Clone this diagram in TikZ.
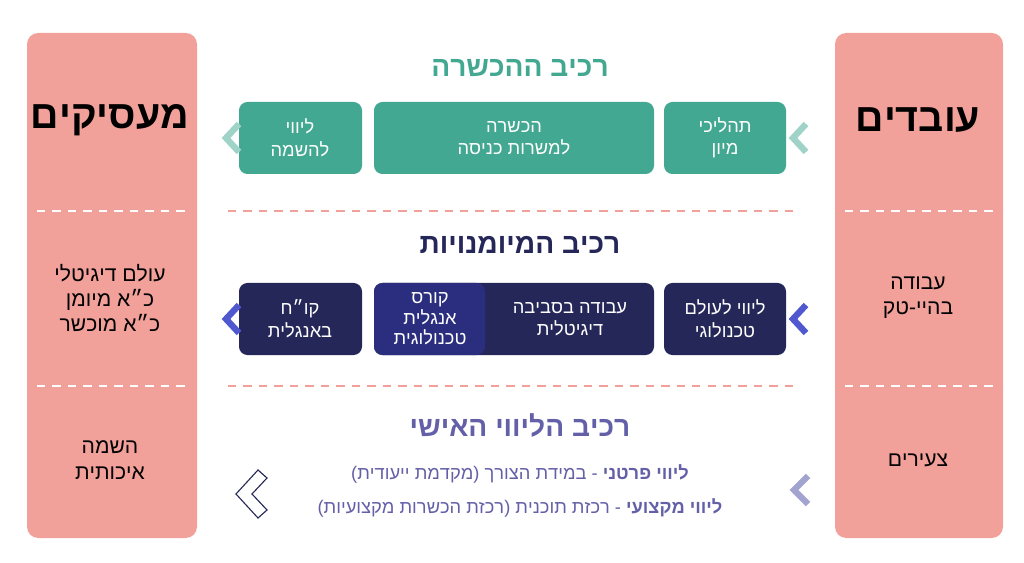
\documentclass[tikz,border=0pt]{standalone}
\usepackage{fontspec}
\setmainfont{Liberation Sans}
\TeXXeTstate=1
\newcommand\he[1]{\beginR#1\endR}
\definecolor{panelred}{HTML}{F2A19A}
\definecolor{teal}{HTML}{43A891}
\definecolor{lteal}{HTML}{9FD3C7}
\definecolor{navy}{HTML}{252759}
\definecolor{inner}{HTML}{2B2E7E}
\definecolor{chevblue}{HTML}{5058D0}
\definecolor{lilac}{HTML}{6360A8}
\definecolor{llilac}{HTML}{A3A3CF}
\tikzset{
  panel/.style={fill=panelred, rounded corners=8pt},
  stepbox/.style={rounded corners=6pt, text=white, align=center, font=\fontsize{13}{16}\selectfont},
  title/.style={font=\fontsize{20}{24}\selectfont\bfseries},
  side/.style={align=center, font=\fontsize{15}{18}\selectfont},
  chev/.style={line width=4.5pt},
}
\begin{document}
\begin{tikzpicture}[x=0.025cm,y=-0.025cm]
  \useasboundingbox[fill=white] (0,0) rectangle (1024,563);

  % side panels
  \fill[panel] (27,33) rectangle (197,538);
  \fill[panel] (835,33) rectangle (1003,538);
  \foreach \y in {211,386} {
    \draw[white, dashed, line width=1pt, dash pattern=on 6pt off 5pt] (37,\y) -- (187,\y);
    \draw[white, dashed, line width=1pt, dash pattern=on 6pt off 5pt] (845,\y) -- (993,\y);
    \draw[panelred, line width=1pt, dash pattern=on 6pt off 5pt] (228,\y) -- (795,\y);
  }
  \node[font=\fontsize{28}{32}\selectfont\bfseries] (employers) at (110,120) {\he{מעסיקים}};
  \node[side] (digital) at (110,298) {\he{עולם דיגיטלי}\\\he{כ״א מיומן}\\\he{כ״א מוכשר}};
  \node[side] (placement) at (110,460) {\he{השמה}\\\he{איכותית}};
  \node[font=\fontsize{28}{32}\selectfont\bfseries] (workers) at (918,120) {\he{עובדים}};
  \node[side] (hitech) at (918,298) {\he{עבודה}\\\he{בהיי-טק}};
  \node[side] (youth) at (918,460) {\he{צעירים}};

  % training
  \node[title, text=teal] (ttrain) at (520,68) {\he{רכיב ההכשרה}};
  \fill[stepbox, fill=teal] (664,102) rectangle (786,174);
  \node[stepbox] (sort) at (725,138) {\he{תהליכי}\\\he{מיון}};
  \fill[stepbox, fill=teal] (374,102) rectangle (654,174);
  \node[stepbox] (train) at (514,138) {\he{הכשרה}\\\he{למשרות כניסה}};
  \fill[stepbox, fill=teal] (239,102) rectangle (362,174);
  \node[stepbox] (escort) at (300,138) {\he{ליווי}\\\he{להשמה}};
  \draw[chev, lteal] (806,124) -- (793,138) -- (806,152);
  \draw[chev, lteal] (239,124) -- (226,138) -- (239,152);

  % skills
  \node[title, text=navy] (tskills) at (520,245) {\he{רכיב המיומנויות}};
  \fill[stepbox, fill=navy] (664,283) rectangle (786,355);
  \node[stepbox] (techworld) at (725,319) {\he{ליווי לעולם}\\\he{טכנולוגי}};
  \fill[stepbox, fill=navy] (374,283) rectangle (654,355);
  \fill[stepbox, fill=inner, drop shadow/.try] (374,283) rectangle (485,355);
  \node[stepbox] (digiwork) at (570,319) {\he{עבודה בסביבה}\\\he{דיגיטלית}};
  \node[stepbox, font=\fontsize{13}{14.5}\selectfont] (english) at (430,319) {\he{קורס}\\\he{אנגלית}\\\he{טכנולוגית}};
  \fill[stepbox, fill=navy] (239,283) rectangle (362,355);
  \node[stepbox] (cv) at (300,319) {\he{קו״ח}\\\he{באנגלית}};
  \draw[chev, chevblue] (806,305) -- (793,319) -- (806,333);
  \draw[chev, chevblue] (239,305) -- (226,319) -- (239,333);

  % personal
  \node[title, text=lilac] (tpersonal) at (520,425) {\he{רכיב הליווי האישי}};
  \node[text=lilac, font=\fontsize{13}{16}\selectfont] (private) at (520,474) {\he{\textbf{ליווי פרטני} - במידת הצורך (מקדמת ייעודית)}};
  \node[text=lilac, font=\fontsize{13}{16}\selectfont] (pro) at (520,508) {\he{\textbf{ליווי מקצועי} - רכזת תוכנית (רכזת הכשרות מקצועיות)}};
  \draw[chev, llilac] (808,476) -- (794,490) -- (808,504);
  \draw[navy, line width=0.8pt, line join=miter]
    (258,470) -- (236,494) -- (258,518) -- (267,510) -- (252,494) -- (267,478) -- cycle;
\end{tikzpicture}
\end{document}
